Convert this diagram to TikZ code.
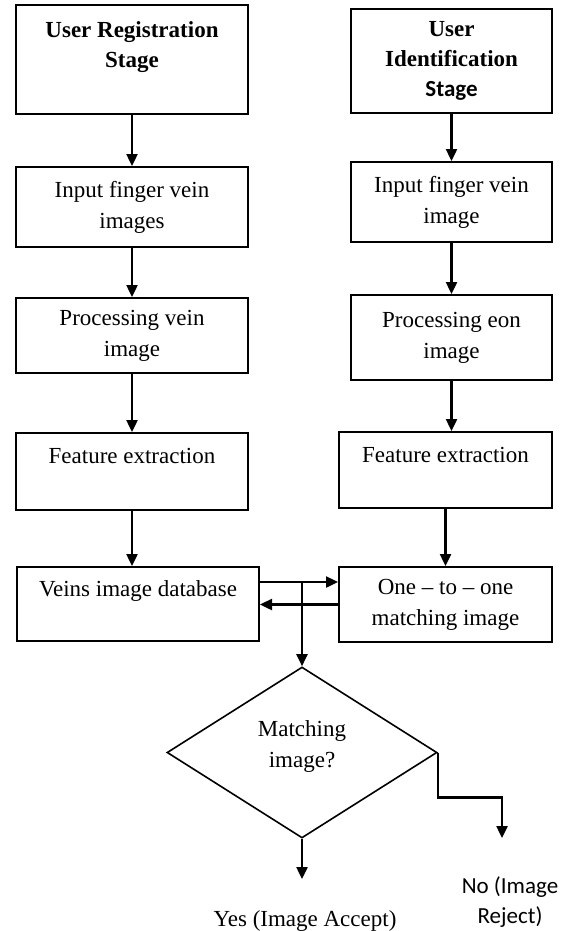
\documentclass[tikz,border=0pt]{standalone}
\usepackage{fontspec}
\setmainfont{Liberation Serif}
\newfontfamily\calibri{Carlito}
\usetikzlibrary{arrows.meta,shapes.geometric}

\begin{document}
\begin{tikzpicture}[x=0.5pt,y=-0.5pt,
	box/.style={draw,line width=1pt,align=center,inner sep=0pt,font=\fontsize{11.5}{15.5}\selectfont},
	title/.style={box,font=\fontsize{11.5}{15}\selectfont\bfseries},
	decision/.style={diamond,draw,line width=0.8pt,align=center,inner sep=0pt,minimum width=135pt,minimum height=85.5pt,font=\fontsize{11.5}{15.5}\selectfont},
	arr/.style={line width=1.2pt,-{Triangle[width=5.5pt,length=6pt]}}]
	
	\useasboundingbox (0,0) rectangle (564,931);
	\def\lx{132} %left column
	\def\rx{451.5} %right column
	
	\node[title,minimum width=116pt,minimum height=54.5pt] (reg) at (\lx,59.5) {User Registration\\Stage\\~};
	\node[box,minimum width=116pt,minimum height=40pt] (inL) at (\lx,207) {Input finger vein\\images};
	\node[box,minimum width=116pt,minimum height=37.5pt] (procL) at (\lx,335.5) {Processing vein\\image};
	\node[box,minimum width=116pt,minimum height=38.5pt] (featL) at (\lx,471.5) {Feature extraction\\~};
	\node[box,minimum width=121pt,minimum height=37pt] (db) at (138,604) {Veins image database\\~};
	
	\node[title,minimum width=100.5pt,minimum height=52pt] (ident) at (\rx,61) {User\\Identification\\{\calibri Stage}};
	\node[box,minimum width=100.5pt,minimum height=40pt] (inR) at (\rx,202) {Input finger vein\\image};
	\node[box,minimum width=100.5pt,minimum height=42.5pt] (procR) at (\rx,337.5) {Processing eon\\image};
	\node[box,minimum width=106.5pt,minimum height=38pt] (featR) at (445.5,470) {Feature extraction\\~};
	\node[box,minimum width=106.5pt,minimum height=37.5pt] (match) at (445.5,604.5) {One -- to -- one\\matching image};
	
	\node[decision] (dec) at (302,752.5) {Matching\\image?\\[-7.5pt]~};
	\node[font=\fontsize{11.5}{15.5}\selectfont] (yes) at (305,921) {Yes (Image Accept)};
	\node[font=\calibri\fontsize{11.5}{15}\selectfont,align=center] (no) at (510,902) {No (Image\\Reject)};
	\coordinate (yesend) at (302,879);
	\coordinate (noend) at (502,838);
	
	\draw[arr] (reg.south) -- (reg.south |- inL.north);
	\draw[arr] (inL.south) -- (inL.south |- procL.north);
	\draw[arr] (procL.south) -- (procL.south |- featL.north);
	\draw[arr] (featL.south) -- (featL.south |- db.north);
	\draw[arr] (ident.south) -- (ident.south |- inR.north);
	\draw[arr] (inR.south) -- (inR.south |- procR.north);
	\draw[arr] (procR.south) -- (procR.south |- featR.north);
	\draw[arr] (featR.south) -- (featR.south |- match.north);
	
	\draw[arr] ([yshift=11pt]db.east) -- ([yshift=11pt]db.east -| match.west);
	\draw[arr] (match.west) -- (match.west -| db.east);
	\draw[arr] ([yshift=11pt]db.east -| dec.north) -- (dec.north);
	\draw[arr] (dec.south) -- (yesend);
	\draw[arr] (dec.east) -- ++(0,45) -| (noend);
\end{tikzpicture}
\end{document}
